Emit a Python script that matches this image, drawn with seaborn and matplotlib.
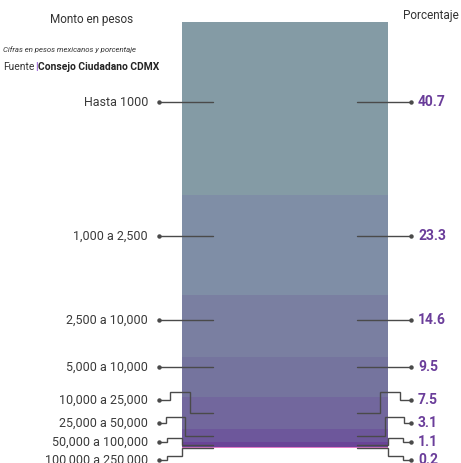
import matplotlib
matplotlib.use("Agg")
import matplotlib.pyplot as plt
import matplotlib.transforms as mtransforms
import seaborn as sns
import pandas as pd
import numpy as np

# ---------------- data ----------------
categories = ["Hasta 1000", "1,000 a 2,500", "2,500 a 10,000", "5,000 a 10,000",
              "10,000 a 25,000", "25,000 a 50,000", "50,000 a 100,000", "100,000 a 250,000"]
percentages = [40.7, 23.3, 14.6, 9.5, 7.5, 3.1, 1.1, 0.2]
value_labels = ["40.7", "23.3", "14.6", "9.5", "7.5", "3.1", "1.1", "0.2"]
colors = ["#849ba5", "#7f8ea6", "#7a7fa1", "#75749e", "#72679d", "#6d579b", "#6a4497", "#e27ac8"]

# ---------------- layout ----------------
W, H = 461, 463
TOP_PX, SCALE = 22, 4.26              # pixel of 0 %, pixels per percent
BAR_L, BAR_R = 182, 388
label_px = [102, 236, 320, 367, 400, 423, 442, 460]   # label rows (pixels from top)
elbow_x1 = [170, 166, 167, 167]
elbow_x2 = [190, 185, 182, 182]
elbow_rise = [8, 6, 4, 4]

sns.set_theme(style="white")
plt.rcParams['font.family'] = ['Roboto', 'DejaVu Sans']

fig = plt.figure(figsize=(W / 100, H / 100), dpi=100)
fig.patch.set_facecolor("white")
ax = fig.add_axes([BAR_L / W, 0, (BAR_R - BAR_L) / W, 1])

cum = np.cumsum(percentages)
df = pd.DataFrame({"x": ["total"] * len(categories), "cum": cum, "seg": categories})
order = categories[::-1]
sns.barplot(data=df, x="x", y="cum", hue="seg", hue_order=order,
            palette=dict(zip(categories, colors)), dodge=False, width=1,
            saturation=1, linewidth=0, legend=False, ax=ax)
ax.set_xlim(-0.5, 0.5)
ax.set_ylim((H - TOP_PX) / SCALE, -TOP_PX / SCALE)
ax.axis("off")

trans = mtransforms.blended_transform_factory(fig.transFigure, ax.transData)


def v(px):
    return (px - TOP_PX) / SCALE


def fx(px):
    return px / W


mids = cum - np.array(percentages) / 2
CENTER = (BAR_L + BAR_R) / 2
LC = "#4a4a4a"
DOT_L, LINE_L = 159, 213


def mirror(x):
    return 2 * CENTER - x


for i, (cat, p, lab) in enumerate(zip(categories, percentages, value_labels)):
    L = label_px[i]
    if i < 4:
        xs = [DOT_L, LINE_L]
        ys = [v(L), v(L)]
    else:
        k = i - 4
        xs = [DOT_L, elbow_x1[k], elbow_x1[k], elbow_x2[k], elbow_x2[k], LINE_L]
        ys = [v(L), v(L), v(L - elbow_rise[k]), v(L - elbow_rise[k]), mids[i], mids[i]]
    ax.plot([fx(x) for x in xs], ys, color=LC, lw=1.0, transform=trans, clip_on=False,
            solid_joinstyle="miter")
    ax.plot([fx(xs[0])], [ys[0]], "o", color=LC, ms=2.2, transform=trans, clip_on=False)
    xr = [mirror(x) for x in xs]
    ax.plot([fx(x) for x in xr], ys, color=LC, lw=1.0, transform=trans, clip_on=False,
            solid_joinstyle="miter")
    ax.plot([fx(xr[0])], [ys[0]], "o", color=LC, ms=2.2, transform=trans, clip_on=False)
    ax.text(fx(148), v(L), cat, ha="right", va="center", fontsize=9, color="#3a3a3a",
            transform=trans, clip_on=False)
    ax.text(fx(418), v(L), lab, ha="left", va="center", fontsize=10, color="#6a3d9a",
            fontweight="bold", transform=trans, clip_on=False)

# titles
fig.text(fx(92), 1 - 20 / H, "Monto en pesos", ha="center", va="center",
         fontsize=8.5, color="#333333")
fig.text(fx(403), 1 - 16 / H, "Porcentaje", ha="left", va="center",
         fontsize=8.5, color="#333333")
fig.text(fx(3), 1 - 50 / H, "Cifras en pesos mexicanos y porcentaje", ha="left",
         va="center", fontsize=5.6, style="italic", color="#333333")

renderer = fig.canvas.get_renderer()
t1 = fig.text(fx(3), 1 - 67 / H, "Fuente", ha="left", va="center", fontsize=7.4,
              color="#333333")
x_next = t1.get_window_extent(renderer).x1 + 0.5
t2 = fig.text(x_next / W, 1 - 67 / H, "|", ha="left", va="center", fontsize=7.4,
              color="#8a4fd0", fontweight="bold")
x_next = t2.get_window_extent(renderer).x1 + 0.3
fig.text(x_next / W, 1 - 67 / H, "Consejo Ciudadano CDMX", ha="left", va="center",
         fontsize=7.4, color="#222222", fontweight="bold")

fig.savefig("out.png", dpi=100, facecolor="white")
